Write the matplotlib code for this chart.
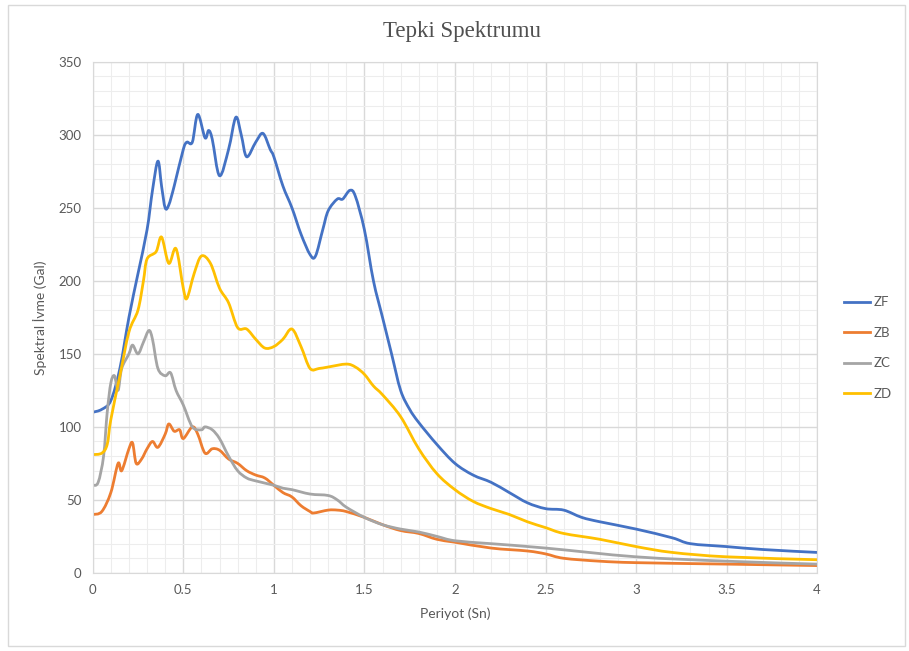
import numpy as np
import matplotlib.pyplot as plt
from matplotlib.ticker import MultipleLocator
from matplotlib.patches import Rectangle, PathPatch
from matplotlib.path import Path
from matplotlib.lines import Line2D

plt.rcParams['font.family'] = ['Lato', 'DejaVu Sans']

# ZF
zf_x = [0, 0.05, 0.1, 0.15, 0.2, 0.25, 0.3, 0.33, 0.36, 0.38, 0.4, 0.42, 0.45, 0.5, 0.52, 0.55,
        0.58, 0.62, 0.64, 0.66, 0.7, 0.75, 0.79, 0.82, 0.85, 0.9, 0.94, 0.98, 1.0, 1.05, 1.1,
        1.15, 1.2, 1.23, 1.27, 1.3, 1.35, 1.38, 1.42, 1.45, 1.5, 1.55, 1.6, 1.65, 1.7, 1.75,
        1.8, 1.9, 2.0, 2.1, 2.2, 2.3, 2.4, 2.5, 2.6, 2.7, 2.8, 3.0, 3.2, 3.3, 3.5, 3.7, 4.0]
zf_y = [110, 112, 118, 140, 175, 205, 235, 262, 282, 265, 250, 252, 265, 290, 295, 295,
        314, 298, 303, 297, 272, 290, 312, 300, 285, 295, 301, 290, 285, 265, 250,
        232, 218, 217, 235, 248, 256, 256, 262, 258, 235, 200, 175, 150, 125, 112,
        103, 88, 75, 67, 62, 55, 48, 44, 43, 38, 35, 30, 24, 20, 18, 16, 14]

# ZB
zb_x = [0, 0.05, 0.1, 0.14, 0.16, 0.2, 0.22, 0.24, 0.27, 0.3, 0.33, 0.36, 0.4, 0.42, 0.45,
        0.48, 0.5, 0.55, 0.58, 0.62, 0.66, 0.7, 0.75, 0.8, 0.85, 0.9, 0.95, 1.0, 1.05, 1.1,
        1.15, 1.2, 1.22, 1.3, 1.35, 1.4, 1.5, 1.6, 1.7, 1.8, 1.9, 2.0, 2.2, 2.4, 2.5, 2.6,
        2.8, 3.0, 3.5, 4.0]
zb_y = [40, 42, 55, 75, 70, 85, 89, 75, 78, 85, 90, 86, 95, 102, 97,
        98, 92, 100, 95, 82, 85, 84, 78, 75, 70, 67, 65, 60, 55, 52,
        46, 42, 41, 43, 43, 42, 38, 33, 29, 27, 23, 21, 17, 15, 13, 10,
        8, 7, 6, 5]

# ZC
zc_x = [0, 0.03, 0.06, 0.08, 0.1, 0.12, 0.14, 0.16, 0.2, 0.22, 0.25, 0.28, 0.31, 0.33, 0.36,
        0.4, 0.43, 0.46, 0.5, 0.55, 0.6, 0.62, 0.66, 0.7, 0.75, 0.8, 0.85, 0.9, 1.0, 1.05,
        1.1, 1.2, 1.3, 1.35, 1.4, 1.5, 1.6, 1.7, 1.8, 1.9, 2.0, 2.2, 2.5, 3.0, 3.5, 4.0]
zc_y = [60, 62, 80, 110, 130, 135, 125, 140, 150, 156, 150, 158, 166, 160, 140,
        135, 137, 125, 115, 100, 98, 100, 98, 92, 80, 70, 65, 63, 60, 58,
        57, 54, 53, 50, 45, 38, 33, 30, 28, 25, 22, 20, 17, 11, 8, 6]

# ZD
zd_x = [0, 0.05, 0.08, 0.1, 0.15, 0.2, 0.25, 0.28, 0.3, 0.35, 0.38, 0.42, 0.46, 0.5, 0.52,
        0.56, 0.6, 0.65, 0.7, 0.75, 0.8, 0.85, 0.9, 0.95, 1.0, 1.05, 1.1, 1.15, 1.2, 1.25,
        1.3, 1.4, 1.45, 1.5, 1.55, 1.6, 1.7, 1.8, 1.9, 2.0, 2.1, 2.2, 2.3, 2.4, 2.5, 2.6,
        2.8, 3.0, 3.2, 3.5, 4.0]
zd_y = [81, 82, 88, 105, 135, 165, 180, 200, 215, 220, 230, 212, 222, 195, 188,
        205, 217, 212, 195, 185, 168, 167, 160, 154, 155, 160, 167, 155, 140, 140,
        141, 143, 141, 136, 128, 122, 107, 85, 68, 57, 49, 44, 40, 35, 31, 27,
        23, 18, 14, 11, 9]

series = [('ZF', zf_x, zf_y, '#4472C4'),
          ('ZB', zb_x, zb_y, '#ED7D31'),
          ('ZC', zc_x, zc_y, '#A5A5A5'),
          ('ZD', zd_x, zd_y, '#FFC000')]


def smooth_path(x, y):
    # Excel-style smoothed line: bezier segments through the data points
    p = np.column_stack([x, y]).astype(float)
    n = len(p)
    verts = [p[0]]
    codes = [Path.MOVETO]
    for i in range(n - 1):
        p0 = p[i - 1] if i > 0 else p[i]
        p3 = p[i + 2] if i + 2 < n else p[i + 1]
        c1 = p[i] + (p[i + 1] - p0) / 6
        c2 = p[i + 1] - (p3 - p[i]) / 6
        verts += [c1, c2, p[i + 1]]
        codes += [Path.CURVE4] * 3
    return Path(verts, codes)


fig = plt.figure(figsize=(9.09, 6.51), dpi=100)
fig.patches.append(Rectangle((0.009, 0.008), 0.987, 0.985, transform=fig.transFigure,
                             fill=False, edgecolor='#D9D9D9', linewidth=1))
ax = fig.add_axes([0.102, 0.12, 0.797, 0.785])

handles = []
for name, x, y, c in series:
    ax.add_patch(PathPatch(smooth_path(x, y), facecolor='none', edgecolor=c,
                           linewidth=2, joinstyle='round', capstyle='round'))
    handles.append(Line2D([], [], color=c, linewidth=2, label=name))

ax.set_xlim(0, 4)
ax.set_ylim(0, 350)
ax.xaxis.set_major_locator(MultipleLocator(0.5))
ax.xaxis.set_minor_locator(MultipleLocator(0.1))
ax.yaxis.set_major_locator(MultipleLocator(50))
ax.yaxis.set_minor_locator(MultipleLocator(10))
ax.set_xticks(np.arange(0, 4.01, 0.5))
ax.set_xticklabels(['0', '0.5', '1', '1.5', '2', '2.5', '3', '3.5', '4'])
ax.grid(which='major', color='#D9D9D9', linewidth=1)
ax.grid(which='minor', color='#EDEDED', linewidth=0.8)
ax.set_axisbelow(True)
ax.tick_params(which='both', length=0, colors='#595959', labelsize=9.5, pad=8)
for s in ax.spines.values():
    s.set_color('#D9D9D9')

ax.set_xlabel('Periyot (Sn)', color='#595959', fontsize=10, labelpad=8)
ax.set_ylabel('Spektral İvme (Gal)', color='#595959', fontsize=10, labelpad=8)
ax.set_title('Tepki Spektrumu', family='Liberation Serif', fontsize=16.5, color='#505050',
             pad=18, x=0.51)

leg = ax.legend(handles=handles, loc='center left', bbox_to_anchor=(1.02, 0.44), frameon=False,
                fontsize=9.5, handlelength=2.0, labelspacing=1.4, handletextpad=0.3)
for t in leg.get_texts():
    t.set_color('#595959')

fig.savefig('out.png', dpi=100)
